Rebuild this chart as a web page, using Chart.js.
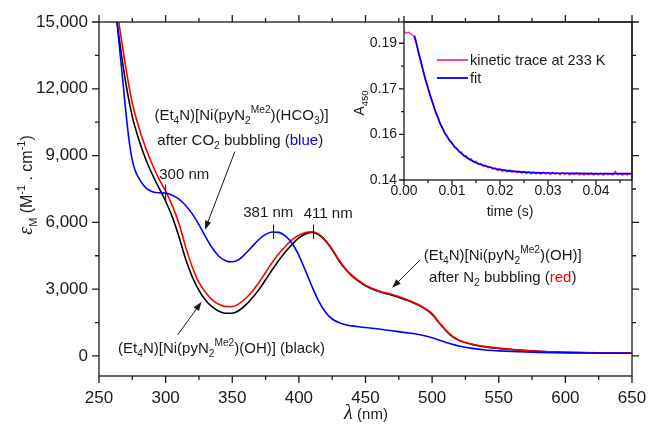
<!DOCTYPE html>
<html>
<head>
<meta charset="utf-8">
<script src="https://cdn.jsdelivr.net/npm/chart.js@4.4.0/dist/chart.umd.min.js"></script>
<style>
  html, body { margin: 0; padding: 0; background: #fff; }
  #wrap { position: relative; width: 649px; height: 430px; }
  #main { position: absolute; left: 0; top: 0; }
  #inset { position: absolute; left: 340px; top: 0; }
</style>
</head>
<body>
<div id="wrap">
  <canvas id="main" width="649" height="430"></canvas>
  <canvas id="inset" width="309" height="230"></canvas>
</div>
<script>
// ---- main spectra (wavelength in nm, epsilon in M-1 cm-1) ----
const wavelength = [262,266,270,275,280,285,290,295,300,305,310,315,320,325,330,335,340,345,350,355,360,365,370,375,380,385,390,395,400,405,410,415,420,425,430,435,440,445,450,460,470,480,490,500,505,510,515,520,530,540,550,560,580,600,625,650];

const epsBlack = [15700,13900,12300,10750,9700,8850,8150,7550,6950,6250,5350,4350,3550,2950,2500,2200,2010,1920,1920,2040,2280,2600,2980,3420,3870,4300,4680,5020,5300,5480,5560,5440,5170,4770,4290,3890,3590,3350,3150,2890,2730,2530,2270,1870,1500,1160,880,700,520,410,340,285,205,165,135,125];

const epsRed = [16200,14550,13000,11350,10250,9350,8600,7950,7400,6750,5950,4900,4000,3300,2850,2520,2320,2220,2220,2340,2580,2900,3300,3750,4200,4600,4930,5220,5420,5540,5580,5470,5200,4800,4320,3920,3620,3380,3180,2920,2760,2560,2300,1900,1530,1180,900,720,530,420,350,290,210,170,140,130];

const wavelengthBlue = [262,266,268,270,272,274,276,278,280,283,286,290,295,300,305,310,315,320,325,330,335,340,345,350,355,360,365,370,375,380,385,390,395,400,405,410,415,420,425,430,435,440,445,450,460,470,480,490,500,505,510,515,520,530,540,550,560,580,600,625,650];

const epsBlue = [15900,13500,12285,11050,9950,9100,8550,8200,7980,7700,7500,7380,7330,7320,7220,7040,6760,6380,5900,5350,4850,4480,4280,4230,4330,4600,4920,5230,5460,5570,5550,5380,5050,4520,3820,3100,2450,1960,1660,1500,1400,1350,1310,1280,1210,1130,1050,960,820,720,620,530,450,340,270,230,200,160,140,130,125];

const xTickValues = [250,300,350,400,450,500,550,600,650];
const yTickValues = [0,3000,6000,9000,12000,15000];

// ---- inset kinetic trace ----
const traceTime = [0,0.0005,0.001,0.0015,0.002,0.0025,0.003,0.0035,0.004,0.0045,0.005,0.0055,0.006,0.0065,0.007,0.0075,0.008,0.0085,0.009,0.0095,0.01,0.0105,0.011,0.0115,0.012,0.0125,0.013,0.0135,0.014,0.0145,0.015,0.0155,0.016,0.0165,0.017,0.0175,0.018,0.0185,0.019,0.0195,0.02,0.0205,0.021,0.0215,0.022,0.0225,0.023,0.0235,0.024,0.0245,0.025,0.0255,0.026,0.0265,0.027,0.0275,0.028,0.0285,0.029,0.0295,0.03,0.0305,0.031,0.0315,0.032,0.0325,0.033,0.0335,0.034,0.0345,0.035,0.0355,0.036,0.0365,0.037,0.0375,0.038,0.0385,0.039,0.0395,0.04,0.0405,0.041,0.0415,0.042,0.0425,0.043,0.0435,0.044,0.0445,0.045,0.0455,0.046,0.0465,0.047,0.0475];

const traceA450 = [0.1888,0.1884,0.1886,0.1879,0.1874,0.1852,0.1818,0.1793,0.1761,0.1727,0.1706,0.1675,0.1655,0.1625,0.1611,0.1586,0.1574,0.1552,0.1546,0.1527,0.1524,0.1507,0.1506,0.1491,0.1492,0.1478,0.1480,0.1467,0.1470,0.1458,0.1462,0.1451,0.1455,0.1444,0.1449,0.1440,0.1444,0.1436,0.1440,0.1431,0.1437,0.1428,0.1433,0.1427,0.1433,0.1425,0.1430,0.1424,0.1429,0.1422,0.1428,0.1421,0.1427,0.1420,0.1426,0.1420,0.1425,0.1419,0.1426,0.1419,0.1424,0.1418,0.1425,0.1419,0.1423,0.1417,0.1424,0.1418,0.1423,0.1416,0.1422,0.1418,0.1423,0.1417,0.1421,0.1416,0.1422,0.1417,0.1423,0.1416,0.1421,0.1417,0.1422,0.1416,0.1421,0.1417,0.1420,0.1416,0.1429,0.1417,0.1420,0.1416,0.1421,0.1417,0.1422,0.1416];

const fitTime = [0.0022,0.003,0.004,0.005,0.006,0.007,0.008,0.009,0.010,0.011,0.012,0.013,0.014,0.015,0.016,0.018,0.020,0.022,0.025,0.030,0.035,0.040,0.0475];
const fitA450 = [0.1875,0.1822,0.1758,0.1702,0.1652,0.1607,0.1570,0.1542,0.1520,0.1502,0.1487,0.1475,0.1465,0.1457,0.1451,0.1441,0.1434,0.1430,0.1426,0.1423,0.1422,0.1421,0.1421];

const insetXTicks = [0,0.01,0.02,0.03,0.04];
const insetYTicks = [0.14,0.155,0.17,0.185];
const insetYLabels = ['0.14','0.16','0.17','0.19'];

// ---- annotations (data coordinates) ----
const peakMarks = [[300, 6950, 7700], [381, 5250, 5900], [411, 5250, 5900]];
const peakLabels = [['300 nm', 314, 8190], ['381 nm', 377, 6480], ['411 nm', 422, 6435]];
const arrows = [[352, 9180, 329.5, 5670], [491, 4320, 470, 3060], [309, 945, 327, 2430]];

const SANS = '"Liberation Sans", Arial, Helvetica, sans-serif';
const SERIF = '"Liberation Serif", "Times New Roman", serif';
const INK = '#1a1a1a';

const hco3Segs = [{t:'(Et'},{t:'4',k:'sub'},{t:'N)[Ni(pyN'},{t:'2',k:'sub'},{t:'Me2',k:'sup'},{t:')(HCO'},{t:'3',k:'sub'},{t:')]'}];
const co2Segs = [{t:'after CO'},{t:'2',k:'sub'},{t:' bubbling ('},{t:'blue',c:'#0000ff'},{t:')'}];
const ohSegs = [{t:'(Et'},{t:'4',k:'sub'},{t:'N)[Ni(pyN'},{t:'2',k:'sub'},{t:'Me2',k:'sup'},{t:')(OH)]'}];
const n2Segs = [{t:'after N'},{t:'2',k:'sub'},{t:' bubbling ('},{t:'red',c:'#ff0000'},{t:')'}];
const blackSegs = [{t:'(Et'},{t:'4',k:'sub'},{t:'N)[Ni(pyN'},{t:'2',k:'sub'},{t:'Me2',k:'sup'},{t:')(OH)] (black)'}];

const notes = [
  {segs: hco3Segs, x: 357, y: 10845},
  {segs: co2Segs, x: 356, y: 9720},
  {segs: ohSegs, x: 553, y: 4545},
  {segs: n2Segs, x: 553, y: 3555},
  {segs: blackSegs, x: 342, y: 360}
];

function fontFor(s, size) {
  let sz = size * (s.scale || 1);
  if (s.k) sz = size * 0.68;
  return (s.it ? 'italic ' : '') + sz.toFixed(1) + 'px ' + (s.serif ? SERIF : SANS);
}

function drawRich(ctx, segs, x, y, size) {
  ctx.textBaseline = 'alphabetic';
  ctx.textAlign = 'left';
  let w = 0;
  segs.forEach(s => { ctx.font = fontFor(s, size); w += ctx.measureText(s.t).width; });
  let cx = x - w / 2;
  segs.forEach(s => {
    ctx.font = fontFor(s, size);
    ctx.fillStyle = s.c || INK;
    const dy = s.k === 'sub' ? size * 0.3 : (s.k === 'sup' ? -size * 0.45 : 0);
    ctx.fillText(s.t, cx, y + dy);
    cx += ctx.measureText(s.t).width;
  });
}

function drawArrow(ctx, x1, y1, x2, y2) {
  const a = Math.atan2(y2 - y1, x2 - x1);
  const hl = 9, hw = 3.2;
  ctx.beginPath();
  ctx.moveTo(x1, y1);
  ctx.lineTo(x2 - Math.cos(a) * hl * 0.8, y2 - Math.sin(a) * hl * 0.8);
  ctx.stroke();
  ctx.beginPath();
  ctx.moveTo(x2, y2);
  ctx.lineTo(x2 - Math.cos(a) * hl - Math.sin(a) * hw, y2 - Math.sin(a) * hl + Math.cos(a) * hw);
  ctx.lineTo(x2 - Math.cos(a) * hl + Math.sin(a) * hw, y2 - Math.sin(a) * hl - Math.cos(a) * hw);
  ctx.closePath();
  ctx.fill();
}

function toPoints(xs, ys) {
  return xs.map((x, i) => ({x: x, y: ys[i]}));
}

// keep the plot box where it is: no extra room for overhanging labels
function noOverhang(s) {
  s.paddingLeft = 0; s.paddingRight = 0; s.paddingTop = 0; s.paddingBottom = 0;
}

const mainFrame = {
  id: 'mainFrame',
  afterDraw(chart) {
    const ctx = chart.ctx;
    const {left, right, top, bottom} = chart.chartArea;
    const xs = chart.scales.x, ys = chart.scales.y;
    ctx.save();
    ctx.strokeStyle = INK;
    ctx.fillStyle = INK;
    ctx.lineWidth = 1.3;
    ctx.strokeRect(left, top, right - left, bottom - top);

    ctx.beginPath();
    for (let v = 250; v <= 650; v += 25) {
      const px = xs.getPixelForValue(v);
      const len = (v % 50 === 0) ? 7 : 4;
      ctx.moveTo(px, bottom); ctx.lineTo(px, bottom + len);
      ctx.moveTo(px, top); ctx.lineTo(px, top - len);
    }
    for (let v = 0; v <= 15000; v += 1500) {
      const py = ys.getPixelForValue(v);
      const len = (v % 3000 === 0) ? 7 : 4;
      ctx.moveTo(left, py); ctx.lineTo(left - len, py);
      ctx.moveTo(right, py); ctx.lineTo(right + len, py);
    }
    ctx.stroke();

    // peak markers
    ctx.lineWidth = 1.1;
    ctx.beginPath();
    peakMarks.forEach(m => {
      const px = xs.getPixelForValue(m[0]);
      ctx.moveTo(px, ys.getPixelForValue(m[1]));
      ctx.lineTo(px, ys.getPixelForValue(m[2]));
    });
    ctx.stroke();
    peakLabels.forEach(l => {
      drawRich(ctx, [{t: l[0]}], xs.getPixelForValue(l[1]), ys.getPixelForValue(l[2]) + 5, 15);
    });

    // arrows
    ctx.lineWidth = 1;
    arrows.forEach(a => {
      drawArrow(ctx, xs.getPixelForValue(a[0]), ys.getPixelForValue(a[1]),
                xs.getPixelForValue(a[2]), ys.getPixelForValue(a[3]));
    });

    notes.forEach(n => {
      drawRich(ctx, n.segs, xs.getPixelForValue(n.x), ys.getPixelForValue(n.y) + 5, 15);
    });

    // axis titles
    drawRich(ctx, [{t: 'λ', it: 1, serif: 1, scale: 1.35}, {t: ' (nm)'}], 366, 419, 15);
    ctx.save();
    ctx.translate(26, 185);
    ctx.rotate(-Math.PI / 2);
    drawRich(ctx, [{t: 'ε', it: 1, serif: 1, scale: 1.25}, {t: 'M', k: 'sub'}, {t: ' (M'}, {t: '-1', k: 'sup'}, {t: ' . cm'}, {t: '-1', k: 'sup'}, {t: ')'}], 0, 6, 16);
    ctx.restore();
    ctx.restore();
  }
};

const insetFrame = {
  id: 'insetFrame',
  afterDraw(chart) {
    const ctx = chart.ctx;
    const {left, right, top, bottom} = chart.chartArea;
    const xs = chart.scales.x, ys = chart.scales.y;
    ctx.save();
    ctx.strokeStyle = INK;
    ctx.fillStyle = INK;
    ctx.lineWidth = 1.3;
    ctx.strokeRect(left, top, right - left, bottom - top);
    ctx.beginPath();
    for (let v = 0; v <= 0.0475; v += 0.005) {
      const px = xs.getPixelForValue(v);
      const major = Math.abs(v / 0.01 - Math.round(v / 0.01)) < 1e-6;
      ctx.moveTo(px, bottom); ctx.lineTo(px, bottom + (major ? 5 : 3));
    }
    for (let v = 0.14; v <= 0.1901; v += 0.0075) {
      const py = ys.getPixelForValue(v);
      const major = Math.abs((v - 0.14) / 0.015 - Math.round((v - 0.14) / 0.015)) < 1e-6;
      ctx.moveTo(left, py); ctx.lineTo(left - (major ? 5 : 3), py);
    }
    ctx.moveTo(left, top); ctx.lineTo(left, top - 6);
    ctx.stroke();

    // legend
    const lx = left + 33, ly = top + 38;
    ctx.lineWidth = 1.8;
    ctx.strokeStyle = '#ff2d8f';
    ctx.beginPath(); ctx.moveTo(lx, ly); ctx.lineTo(lx + 31, ly); ctx.stroke();
    ctx.strokeStyle = '#0000ff';
    ctx.beginPath(); ctx.moveTo(lx, ly + 18); ctx.lineTo(lx + 31, ly + 18); ctx.stroke();
    ctx.fillStyle = INK;
    ctx.font = '14.5px ' + SANS;
    ctx.textAlign = 'left';
    ctx.textBaseline = 'middle';
    ctx.fillText('kinetic trace at 233 K', lx + 33, ly + 1);
    ctx.fillText('fit', lx + 33, ly + 19);

    drawRich(ctx, [{t: 'time (s)'}], 170, 216, 14);
    ctx.save();
    ctx.translate(19, 103);
    ctx.rotate(-Math.PI / 2);
    drawRich(ctx, [{t: 'A'}, {t: '450', k: 'sub'}], 0, 5, 14);
    ctx.restore();
    ctx.restore();
  }
};

new Chart(document.getElementById('main'), {
  type: 'line',
  data: {
    datasets: [
      {label: 'blue', data: toPoints(wavelengthBlue, epsBlue), borderColor: '#0000ff'},
      {label: 'red', data: toPoints(wavelength, epsRed), borderColor: '#ff0000'},
      {label: 'black', data: toPoints(wavelength, epsBlack), borderColor: '#000000'}
    ].map(d => Object.assign(d, {borderWidth: 1.6, pointRadius: 0, cubicInterpolationMode: 'monotone', fill: false}))
  },
  options: {
    responsive: false,
    animation: false,
    devicePixelRatio: 1,
    layout: {padding: {left: 0, right: 17, top: 22, bottom: 0}},
    plugins: {legend: {display: false}, tooltip: {enabled: false}},
    scales: {
      x: {
        type: 'linear', min: 250, max: 650,
        afterBuildTicks: s => { s.ticks = xTickValues.map(v => ({value: v})); },
        afterFit: s => { s.height = 54; noOverhang(s); },
        grid: {display: false, drawTicks: false}, border: {display: false},
        ticks: {padding: 12, color: INK, font: {family: SANS, size: 17}, maxRotation: 0, autoSkip: false}
      },
      y: {
        type: 'linear', min: -900, max: 15000,
        afterBuildTicks: s => { s.ticks = yTickValues.map(v => ({value: v})); },
        afterFit: s => { s.width = 99; noOverhang(s); },
        grid: {display: false, drawTicks: false}, border: {display: false},
        ticks: {padding: 11, color: INK, font: {family: SANS, size: 17}, autoSkip: false,
          callback: v => v.toLocaleString('en-US')}
      }
    }
  },
  plugins: [mainFrame]
});

new Chart(document.getElementById('inset'), {
  type: 'line',
  data: {
    datasets: [
      {label: 'fit', data: toPoints(fitTime, fitA450), borderColor: '#0000ff', borderWidth: 1.7,
       pointRadius: 0, cubicInterpolationMode: 'monotone', fill: false},
      {label: 'kinetic trace at 233 K', data: toPoints(traceTime, traceA450), borderColor: '#ff2d8f', borderWidth: 1.4,
       pointRadius: 0, tension: 0, fill: false}
    ]
  },
  options: {
    responsive: false,
    animation: false,
    devicePixelRatio: 1,
    layout: {padding: {left: 0, right: 17, top: 22, bottom: 0}},
    plugins: {legend: {display: false}, tooltip: {enabled: false}},
    scales: {
      x: {
        type: 'linear', min: 0, max: 0.0475,
        afterBuildTicks: s => { s.ticks = insetXTicks.map(v => ({value: v})); },
        afterFit: s => { s.height = 50; noOverhang(s); },
        grid: {display: false, drawTicks: false}, border: {display: false},
        ticks: {padding: 3, color: INK, font: {family: SANS, size: 14}, maxRotation: 0, autoSkip: false,
          callback: v => v.toFixed(2)}
      },
      y: {
        type: 'linear', min: 0.14, max: 0.192,
        afterBuildTicks: s => { s.ticks = insetYTicks.map(v => ({value: v})); },
        afterFit: s => { s.width = 64; noOverhang(s); },
        grid: {display: false, drawTicks: false}, border: {display: false},
        ticks: {padding: 7, color: INK, font: {family: SANS, size: 14}, autoSkip: false,
          callback: (v, i) => insetYLabels[i]}
      }
    }
  },
  plugins: [insetFrame]
});
</script>
</body>
</html>
